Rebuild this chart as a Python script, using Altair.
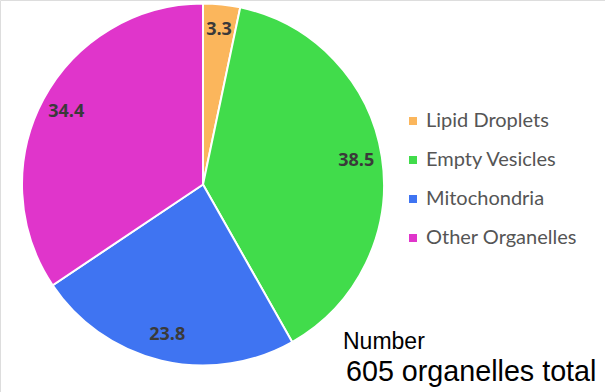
import altair as alt
import pandas as pd

# Share of organelles by type (percent of 605 counted)
categories = ["Lipid Droplets", "Empty Vesicles", "Mitochondria", "Other Organelles"]
percentages = [3.3, 38.5, 23.8, 34.4]
colors = ["#FBB65C", "#41DC4B", "#3F74F2", "#E035CB"]

df = pd.DataFrame({
    "category": categories,
    "pct": percentages,
    "order": list(range(len(categories))),
})

cx, cy, r = 203, 184.5, 181

base = alt.Chart(df).encode(
    theta=alt.Theta("pct:Q", stack=True),
    order=alt.Order("order:O"),
    x=alt.value(cx),
    y=alt.value(cy),
)

pie = base.mark_arc(outerRadius=r, stroke="white", strokeWidth=2).encode(
    color=alt.Color(
        "category:N",
        scale=alt.Scale(domain=categories, range=colors),
        sort=categories,
        legend=alt.Legend(
            title=None,
            orient="none",
            legendX=403,
            legendY=111,
            symbolType="square",
            symbolSize=64,
            symbolStrokeWidth=0,
            labelFont="Lato",
            labelFontSize=20,
            labelColor="#555555",
            labelOffset=3,
            rowPadding=19,
        ),
    )
)

labels = base.mark_text(
    radius=155, font="Open Sans", fontSize=18, fontWeight="bold", color="#3a3a3a"
).encode(text=alt.Text("pct:Q", format=".1f"))

caption = pd.DataFrame({
    "line": ["Number", "605 organelles total"],
    "px": [343, 346],
    "py": [342, 372],
    "size": [23, 28.7],
})

notes = alt.Chart(caption).mark_text(
    align="left", baseline="middle", font="Liberation Sans", color="#000000"
).encode(
    x=alt.X("px:Q", scale=None),
    y=alt.Y("py:Q", scale=None),
    text="line:N",
    size=alt.Size("size:Q", scale=None, legend=None),
)

chart = alt.layer(pie, labels, notes).properties(
    width=605, height=392, padding=0, autosize=alt.AutoSizeParams(type="none")
).configure_view(stroke=None).configure(background="white")

chart.save("out.html", embed_options={"renderer": "svg", "actions": False})
